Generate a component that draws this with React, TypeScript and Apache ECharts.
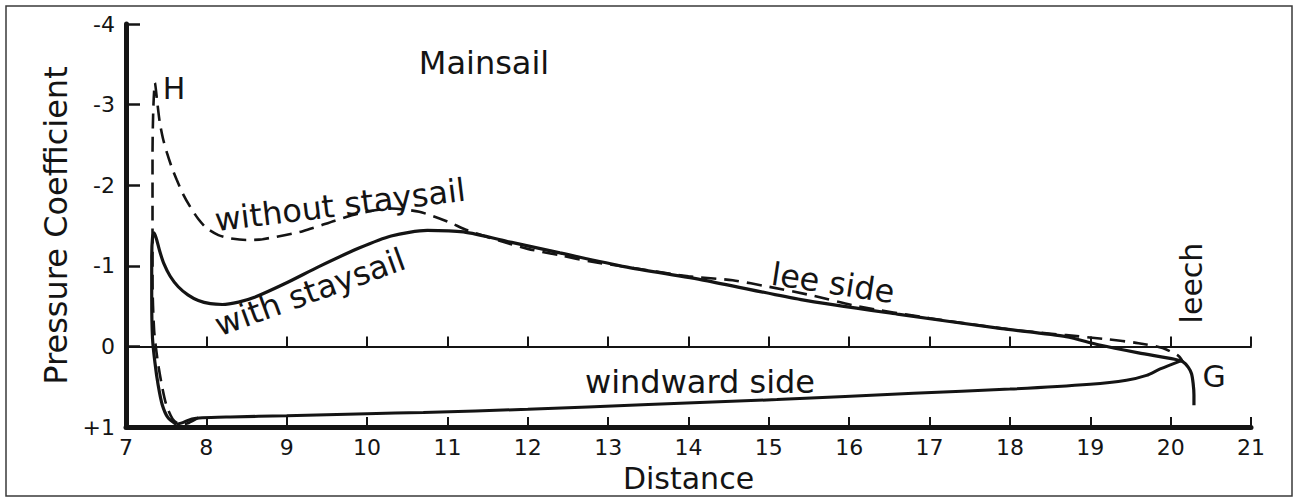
import React, { useEffect, useRef } from "react";
import * as echarts from "echarts";

// ---- data (Distance, Pressure Coefficient) ----
const xTicks = [7, 8, 9, 10, 11, 12, 13, 14, 15, 16, 17, 18, 19, 20, 21];
const yTickLabels = ["-4", "-3", "-2", "-1", "0", "+1"]; // values -4 .. +1

const leeWithStaysail: [number, number][] = [
  [7.63, 0.97], [7.52, 0.88], [7.45, 0.72], [7.4, 0.48], [7.36, 0.2], [7.33, -0.1],
  [7.32, -0.6], [7.32, -1.1], [7.33, -1.35], [7.35, -1.41], [7.38, -1.33], [7.42, -1.18],
  [7.47, -1.03], [7.55, -0.87], [7.65, -0.74], [7.77, -0.64], [7.9, -0.57], [8.05, -0.53],
  [8.2, -0.52], [8.4, -0.55], [8.6, -0.61], [9.0, -0.79], [9.4, -0.99], [9.9, -1.22],
  [10.3, -1.37], [10.75, -1.44], [11.2, -1.42], [11.8, -1.29], [12.4, -1.16], [13.2, -0.99],
  [14.2, -0.82], [15.4, -0.58], [16.6, -0.4], [17.9, -0.22], [18.7, -0.12], [19.1, -0.02],
  [19.6, 0.08], [20.05, 0.16], [20.15, 0.19], [20.22, 0.26], [20.26, 0.34], [20.28, 0.46],
  [20.29, 0.6], [20.29, 0.73],
];

const leeWithoutStaysail: [number, number][] = [
  [7.9, 0.885], [7.78, 0.95], [7.68, 0.97], [7.58, 0.9], [7.5, 0.72], [7.44, 0.45],
  [7.39, 0.15], [7.35, -0.2], [7.33, -0.8], [7.33, -1.6], [7.33, -2.4], [7.34, -2.95],
  [7.36, -3.27], [7.39, -3.02], [7.42, -2.78], [7.46, -2.58], [7.51, -2.4], [7.57, -2.22],
  [7.63, -2.07], [7.71, -1.89], [7.8, -1.73], [7.9, -1.58], [8.0, -1.47], [8.15, -1.38],
  [8.3, -1.34], [8.5, -1.32], [8.7, -1.33], [9.2, -1.43], [9.6, -1.56], [9.9, -1.65],
  [10.3, -1.71], [10.65, -1.67], [11.0, -1.55], [11.25, -1.44], [11.65, -1.31], [12.0, -1.21],
  [12.4, -1.13], [12.8, -1.05], [13.2, -0.99], [14.0, -0.87], [14.55, -0.82], [15.0, -0.74],
  [15.5, -0.64], [16.1, -0.5], [17.0, -0.35], [18.0, -0.21], [18.7, -0.14], [19.2, -0.09],
  [19.6, -0.04], [19.9, 0.02], [20.1, 0.12], [20.15, 0.19],
];

const windwardSide: [number, number][] = [
  [7.63, 0.97], [7.72, 0.94], [7.82, 0.9], [7.95, 0.885], [8.3, 0.875], [9.0, 0.86],
  [10.0, 0.835], [10.7, 0.82], [12.0, 0.78], [13.5, 0.72], [15.1, 0.66], [16.8, 0.58],
  [18.0, 0.53], [19.0, 0.47], [19.45, 0.42], [19.7, 0.36], [19.87, 0.28], [20.15, 0.17],
];

const FONT = "'DejaVu Sans', 'Liberation Sans', sans-serif";
const INK = "#141414";

export default function App() {
  const ref = useRef<HTMLDivElement>(null);

  useEffect(() => {
    if (!ref.current) return;
    const chart = echarts.init(ref.current, undefined, { renderer: "svg" });

    const label = (text: string, x: number, y: number, rotDeg: number, size = 32) => ({
      type: "text",
      x,
      y,
      rotation: (rotDeg * Math.PI) / 180,
      style: {
        text,
        fill: INK,
        font: `${size}px ${FONT}`,
        align: "center",
        verticalAlign: "middle",
      },
      z: 10,
    });

    chart.setOption({
      animation: false,
      backgroundColor: "#ffffff",
      grid: { left: 126, right: 43, top: 24, bottom: 71, containLabel: false },
      xAxis: [
        {
          type: "value",
          min: 7,
          max: 21,
          interval: 1,
          position: "bottom",
          name: "Distance",
          nameLocation: "middle",
          nameGap: 36,
          nameTextStyle: { fontFamily: FONT, fontSize: 30, color: INK },
          axisLine: { show: true, onZero: false, lineStyle: { color: INK, width: 5 } },
          axisTick: { show: true, inside: true, length: 10, lineStyle: { color: INK, width: 2 } },
          axisLabel: {
            show: true,
            margin: 9,
            fontFamily: FONT,
            fontSize: 22,
            color: INK,
            formatter: (v: number) => (xTicks.includes(v) ? String(v) : ""),
          },
          splitLine: { show: false },
        },
        {
          type: "value",
          min: 7,
          max: 21,
          interval: 1,
          position: "bottom",
          axisLine: { show: true, onZero: true, lineStyle: { color: INK, width: 2 } },
          axisTick: { show: true, inside: true, length: 10, lineStyle: { color: INK, width: 2 } },
          axisLabel: { show: false },
          splitLine: { show: false },
        },
      ],
      yAxis: {
        type: "value",
        min: -4,
        max: 1,
        interval: 1,
        inverse: true,
        position: "left",
        name: "Pressure Coefficient",
        nameLocation: "middle",
        nameGap: 52,
        nameTextStyle: { fontFamily: FONT, fontSize: 32, color: INK },
        axisLine: { show: true, onZero: false, lineStyle: { color: INK, width: 5 } },
        axisTick: { show: true, inside: true, length: 14, lineStyle: { color: INK, width: 2.5 } },
        axisLabel: {
          margin: 11,
          fontFamily: FONT,
          fontSize: 22,
          color: INK,
          formatter: (v: number) => yTickLabels[Math.round(v) + 4] ?? "",
        },
        splitLine: { show: false },
      },
      series: [
        {
          name: "with staysail",
          type: "line",
          data: leeWithStaysail,
          showSymbol: false,
          smooth: 0.25,
          lineStyle: { color: INK, width: 3.2 },
        },
        {
          name: "without staysail",
          type: "line",
          data: leeWithoutStaysail,
          showSymbol: false,
          smooth: 0.25,
          lineStyle: { color: INK, width: 2.6, type: [15, 8] },
        },
        {
          name: "windward side",
          type: "line",
          data: windwardSide,
          showSymbol: false,
          smooth: 0.25,
          lineStyle: { color: INK, width: 3 },
        },
      ],
      graphic: [
        {
          type: "rect",
          shape: { x: 6, y: 6, width: 1286, height: 490 },
          style: { fill: "none", stroke: "#3a3a3a", lineWidth: 1.5 },
          silent: true,
        },
        label("Mainsail", 484, 63, 0, 32),
        label("H", 174, 88, 0, 30),
        label("without staysail", 340, 205, 7),
        label("with staysail", 310, 292, 20),
        label("lee side", 833, 283, -8.7),
        label("windward side", 700, 382, 0),
        label("leech", 1191, 283, 90, 30),
        label("G", 1214, 376, 0, 30),
      ],
    });

    return () => chart.dispose();
  }, []);

  return (
    <div
      ref={ref}
      style={{ position: "fixed", left: 0, top: 0, width: 1294, height: 498, background: "#fff" }}
    />
  );
}
